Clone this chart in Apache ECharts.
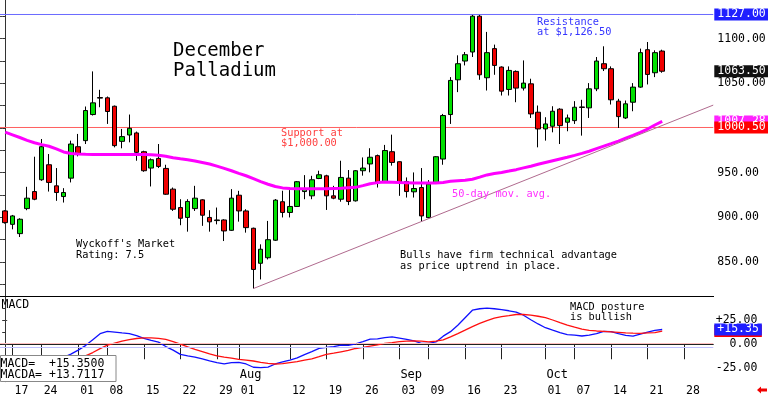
<!DOCTYPE html>
<html><head><meta charset="utf-8">
<script src="https://cdn.jsdelivr.net/npm/echarts@6/dist/echarts.min.js"></script>
<style>html,body{margin:0;padding:0;background:#fff}#c{width:768px;height:396px}</style>
</head><body><div id="c"></div>
<script>
// ---- data (trading-day index 0..90) ----
const candleOpen  = [907.1,892.1,881.7,909.7,928.8,942.0,958.8,935.2,923.2,943.8,979.0,985.8,1015.0,1034.0,1033.7,1024.3,985.0,992.1,994.4,973.4,955.1,965.9,954.7,931.5,910.9,899.8,909.7,919.5,899.8,896.3,897.0,885.4,924.7,907.1,887.7,848.5,854.7,874.3,917.4,905.4,912.1,928.8,924.0,943.4,946.4,924.0,920.2,943.8,918.4,952.1,959.7,969.0,939.8,973.4,962.2,940.1,928.5,933.3,899.6,939.0,965.2,1015.0,1053.9,1074.9,1085.0,1125.1,1056.2,1088.8,1068.2,1043.1,1063.3,1044.6,1049.4,1017.6,998.9,1001.9,1021.0,1006.4,1008.2,1023.5,1022.5,1043.8,1071.9,1066.3,1030.0,1011.2,1028.8,1045.7,1087.6,1061.8,1086.1];
const candleClose = [894.0,901.5,897.8,921.4,920.2,979.0,939.0,927.7,927.7,982.0,971.5,1019.5,1028.1,1033.4,1018.4,980.2,990.3,999.6,972.7,952.1,964.4,956.9,925.8,909.0,898.9,917.7,921.4,902.3,894.9,897.0,884.7,921.4,907.1,888.4,841.6,864.2,874.9,919.2,905.4,912.1,939.8,931.5,942.0,947.6,924.0,921.4,944.6,917.7,952.1,955.1,967.2,939.1,974.7,961.4,939.1,928.8,932.2,901.5,937.1,967.8,1013.9,1053.2,1071.9,1082.0,1125.1,1059.5,1084.3,1070.0,1041.2,1064.4,1044.6,1050.2,1015.7,998.9,1004.5,1018.7,1002.6,1011.2,1023.2,1023.0,1043.8,1074.9,1066.3,1031.5,1012.7,1027.0,1045.7,1084.3,1059.9,1084.3,1063.5];
const candleLow   = [892.9,886.5,877.9,907.9,919.1,940.8,928.8,918.4,916.5,939.0,968.2,982.0,1013.9,1023.2,1004.5,978.3,977.2,983.9,963.3,950.9,934.5,955.1,925.1,907.1,891.1,883.9,907.1,890.4,883.9,892.1,873.4,884.7,895.1,882.8,820.2,830.4,852.8,873.5,899.8,899.8,911.7,920.2,920.2,942.7,908.2,920.2,917.4,913.6,917.6,946.6,950.3,933.3,939.1,957.8,924.0,922.1,922.1,895.1,898.9,938.2,958.8,1004.5,1040.1,1070.0,1079.4,1053.9,1041.9,1059.5,1036.3,1036.3,1028.8,1041.9,1011.2,978.3,985.8,995.1,982.0,996.3,1004.5,991.4,1011.2,1041.2,1063.7,1026.2,1000.0,1010.1,1018.7,1044.9,1048.7,1056.9,1061.8];
const candleHigh  = [907.9,902.6,898.9,934.1,967.8,987.6,970.8,955.1,932.6,985.8,993.3,1024.0,1063.3,1042.7,1035.2,1025.1,998.9,1015.0,995.9,974.5,965.9,982.0,958.8,933.3,920.2,920.2,935.2,920.2,907.9,910.9,897.8,931.5,929.6,909.0,888.4,869.7,895.9,920.4,929.7,930.4,940.6,947.2,946.4,952.1,947.6,935.2,963.3,952.9,952.8,967.0,977.3,970.2,981.0,992.5,962.5,944.6,950.2,955.1,941.6,968.5,1015.7,1056.9,1081.3,1085.0,1126.5,1126.5,1107.5,1093.3,1068.9,1068.9,1064.4,1075.6,1055.1,1025.1,1012.0,1024.3,1022.1,1015.0,1030.0,1031.5,1050.2,1079.4,1091.4,1068.9,1032.6,1030.7,1050.2,1088.8,1096.2,1086.9,1087.6];
const ma50 = [995.3,992.3,989.3,986.1,983.4,981.3,979.5,976.5,973.1,971.4,970.8,970.5,970.3,970.2,970.2,970.2,970.2,970.2,970.2,970.2,970.0,969.5,968.4,966.6,965.4,964.3,963.0,961.4,959.7,957.2,954.7,952.1,949.2,946.5,943.2,939.9,937.0,934.4,932.9,932.1,932.0,932.0,932.0,932.0,932.0,932.2,932.4,933.1,933.5,935.4,937.6,938.8,939.4,939.3,938.9,938.7,938.5,938.3,938.3,938.3,939.0,940.3,940.9,941.5,942.6,944.9,947.4,949.0,950.2,951.7,953.3,955.3,957.2,959.3,961.3,963.3,965.3,967.2,969.3,971.5,973.9,976.8,979.6,982.4,985.3,988.5,991.7,995.1,998.8,1003.3,1007.28];
const macdStart = 8;
const macdLine = [-13.5,-10.2,-6.1,-1.4,4.8,11.0,13.4,12.6,11.8,11.1,8.9,6.1,4.0,2.2,-2.4,-6.1,-10.5,-12.1,-13.3,-15.2,-17.2,-19.0,-20.3,-19.0,-18.8,-20.5,-23.9,-24.3,-23.7,-20.5,-18.3,-16.4,-14.1,-10.7,-7.6,-4.3,-3.3,-2.5,-0.9,-1.2,0.5,2.7,5.3,5.5,6.9,7.6,6.4,5.1,3.5,0.9,0.9,2.4,8.4,13.1,19.8,27.6,35.4,36.9,37.6,36.9,35.9,34.8,33.3,30.2,25.5,21.1,17.2,14.6,12.1,10.0,9.5,8.6,9.5,11.0,13.4,13.1,11.0,9.3,8.4,10.5,12.6,14.5,15.35];
const signalStart = 10;
const signalLine = [-15.5,-12.0,-8.6,-4.5,-0.9,1.2,3.3,4.8,6.0,6.6,6.6,6.1,5.0,2.7,0.2,-2.7,-5.3,-7.6,-10.0,-12.0,-13.3,-14.3,-15.6,-16.4,-17.4,-18.8,-19.8,-20.5,-20.2,-19.0,-18.0,-16.4,-15.1,-12.8,-10.4,-9.2,-7.8,-6.4,-4.4,-3.3,-1.9,-0.7,0.9,1.7,2.7,3.3,3.5,3.3,2.5,3.3,4.5,7.6,11.0,14.6,18.3,21.6,24.5,27.1,28.8,29.8,30.9,30.9,30.2,29.1,27.6,25.2,22.4,19.8,17.7,15.7,14.4,13.8,13.4,12.9,12.4,11.9,11.5,11.3,11.8,12.1,13.7117];
const dateTickIdx = [1,5,10,14,19,24,29,32,39,44,49,54,58,63,68,74,78,83,88,93];
const dateTickLabels = ['17','24','01','08','15','22','29','01','12','19','26','03','09','16','23','01','07','14','21','28'];
const monthTickIdx = [32,54,74];
const monthLabels = ['Aug','Sep','Oct'];
const priceLabelValues = [850,900,950,1050,1100];
const priceTickValues = [825,850,875,900,925,950,975,1000,1025,1050,1075,1100,1125];
const resistanceLevel = 1127;
const supportLevel = 1000.5;
const lastPrice = 1063.5;
const lastMA = 1007.28;
const trendIdx = [34, 96.99];
const trendVal = [820.2, 1025.55];
const macdLabelValues = [-25, 0, 25];
const macdTickValues = [-37.5,-25,-12.5,0,12.5,25,37.5];
const macdZeroLines = [0.9, -2.6];
const lastMacd = 15.35, lastSignal = 13.7117;

// ---- chart ----
const F = '"DejaVu Sans Mono", monospace';
const XMIN = -0.712, XMAX = 97.0;
const YMIN = 810.75, YMAX = 1143.23;
const chart = echarts.init(document.getElementById('c'), null, {renderer: 'canvas'});

const candleData = candleOpen.map((o, i) => [i, o, candleClose[i], candleLow[i], candleHigh[i]]);
const maData = ma50.map((v, i) => [i, v]);
const macdData = macdLine.map((v, i) => [macdStart + i, v]);
const sigData = signalLine.map((v, i) => [signalStart + i, v]);
const levelLine = (v) => [[XMIN, v], [XMAX, v]];

const near = (a, b) => Math.abs(a - b) < 1e-6;
// transparent horizontal markLine carrying a value tag beside the right axis
const tag = (v, text, bg) => ({yAxis: v, lineStyle: {color: 'rgba(0,0,0,0)', width: 1, opacity: 1},
  label: {show: true, position: 'end', distance: 1, formatter: text, fontSize: 11.5, fontFamily: F, color: '#fff', opacity: 1,
    backgroundColor: bg, padding: [1, 3, 0, 3], lineHeight: 11, align: 'left', verticalAlign: 'middle'}});

const option = {
  animation: false,
  backgroundColor: '#fff',
  grid: [
    {left: 0, top: 0, width: 713.3, height: 297, containLabel: false, outerBoundsMode: 'none'},
    {left: 0, top: 297, width: 713.3, height: 84.7, containLabel: false, outerBoundsMode: 'none'}
  ],
  xAxis: [
    {type: 'value', gridIndex: 0, min: XMIN, max: XMAX, show: false, splitLine: {show: false}},
    {type: 'value', gridIndex: 1, min: XMIN, max: XMAX, position: 'bottom',
      splitLine: {show: false},
      axisLine: {show: true, lineStyle: {color: '#222', width: 1}},
      axisTick: {show: true, customValues: dateTickIdx, inside: false, length: 15, lineStyle: {color: '#222'}},
      axisLabel: {show: true, customValues: dateTickIdx, align: 'left', margin: 3, padding: [0, 0, 0, 2],
        fontSize: 11.5, fontFamily: F, color: '#000', hideOverlap: false,
        formatter: v => { const k = dateTickIdx.findIndex(d => near(d, v)); return k >= 0 ? dateTickLabels[k] : ''; }}
    },
    {type: 'value', gridIndex: 1, min: XMIN, max: XMAX, position: 'bottom',
      splitLine: {show: false}, axisLine: {show: false}, axisTick: {show: false},
      axisLabel: {show: true, inside: true, customValues: monthTickIdx, align: 'left', margin: 1, padding: [0, 0, 0, 1],
        fontSize: 12, fontFamily: F, color: '#000',
        formatter: v => { const k = monthTickIdx.findIndex(d => near(d, v)); return k >= 0 ? monthLabels[k] : ''; }}
    }
  ],
  yAxis: [
    {type: 'value', gridIndex: 0, position: 'right', min: YMIN, max: YMAX,
      splitLine: {show: false},
      axisLine: {show: true, lineStyle: {color: '#333'}},
      axisTick: {show: true, inside: true, length: 3, customValues: priceTickValues, lineStyle: {color: '#333'}},
      axisLabel: {show: true, margin: 4, customValues: priceLabelValues, hideOverlap: false,
        formatter: v => v.toFixed(2), fontSize: 11.5, fontFamily: F, color: '#000'}
    },
    {type: 'value', gridIndex: 0, position: 'left', min: YMIN, max: YMAX,
      splitLine: {show: false}, axisLine: {show: false},
      axisTick: {show: true, inside: true, length: 2, customValues: priceTickValues, lineStyle: {color: '#444'}},
      axisLabel: {show: false}
    },
    {type: 'value', gridIndex: 1, position: 'right', min: -38.9, max: 49.1,
      splitLine: {show: false},
      axisLine: {show: true, lineStyle: {color: '#333'}},
      axisTick: {show: true, inside: true, length: 3, customValues: macdTickValues, lineStyle: {color: '#333'}},
      axisLabel: {show: true, margin: 44, align: 'right', customValues: macdLabelValues, hideOverlap: false,
        formatter: v => (v > 0 ? '+' : '') + v.toFixed(2), fontSize: 11.5, fontFamily: F, color: '#000'}
    },
    {type: 'value', gridIndex: 1, position: 'left', min: -38.9, max: 49.1,
      splitLine: {show: false}, axisLine: {show: false},
      axisTick: {show: true, inside: true, length: 2, customValues: macdLabelValues, lineStyle: {color: '#444'}},
      axisLabel: {show: false}
    }
  ],
  series: [
    {type: 'line', xAxisIndex: 0, yAxisIndex: 0, data: levelLine(resistanceLevel), showSymbol: false, symbol: 'none',
      lineStyle: {color: '#6a6aff', width: 1}, z: 1, silent: true},
    {type: 'line', xAxisIndex: 0, yAxisIndex: 0, data: levelLine(supportLevel), showSymbol: false, symbol: 'none',
      lineStyle: {color: '#ff6060', width: 1}, z: 1, silent: true},
    {type: 'candlestick', xAxisIndex: 0, yAxisIndex: 0, data: candleData, encode: {x: 0, y: [1, 2, 3, 4]},
      barWidth: 5, z: 2,
      itemStyle: {color: '#00e000', color0: '#f00000', borderColor: '#000', borderColor0: '#000', borderWidth: 1}
    },
    {type: 'line', xAxisIndex: 0, yAxisIndex: 0, data: maData, showSymbol: false, symbol: 'none',
      lineStyle: {color: '#ff00ff', width: 3}, z: 3,
      markLine: {silent: true, symbol: 'none', animation: false,
        data: [
          [{coord: [trendIdx[0], trendVal[0]], lineStyle: {color: '#b06a8e', width: 1, type: 'solid'}, label: {show: false}},
           {coord: [trendIdx[1], trendVal[1]]}],
          tag(resistanceLevel, resistanceLevel.toFixed(2), '#1f1fff'),
          tag(lastPrice, lastPrice.toFixed(2), '#111111'),
          tag(lastMA, lastMA.toFixed(2), '#ff22ff'),
          tag(supportLevel, supportLevel.toFixed(2), '#ff0000')
        ]}
    },
    {type: 'line', xAxisIndex: 1, yAxisIndex: 2, data: macdData, showSymbol: false, symbol: 'none',
      lineStyle: {color: '#1010ff', width: 1.3}, z: 3,
      markLine: {silent: true, symbol: 'none', animation: false,
        data: [
          {yAxis: macdZeroLines[0], lineStyle: {color: '#ffc0c0', width: 1, type: 'solid'}, label: {show: false}},
          {yAxis: macdZeroLines[1], lineStyle: {color: '#c0c0ff', width: 1, type: 'solid'}, label: {show: false}},
          tag(lastSignal, '+' + lastSignal.toFixed(2), '#ff0000'),
          tag(lastMacd, '+' + lastMacd.toFixed(2), '#1f1fff')
        ]}
    },
    {type: 'line', xAxisIndex: 1, yAxisIndex: 2, data: sigData, showSymbol: false, symbol: 'none',
      lineStyle: {color: '#ff1010', width: 1.3}, z: 3}
  ],
  graphic: [
    {type: 'line', z: 50, shape: {x1: 0, y1: 296.5, x2: 714, y2: 296.5}, style: {stroke: '#000', lineWidth: 1}},
    {type: 'text', z: 50, x: 173, y: 41.5, style: {text: 'December\nPalladium', font: '19px ' + F, lineHeight: 20, fill: '#000', verticalAlign: 'top'}},
    {type: 'text', z: 50, x: 537, y: 17.7, style: {text: 'Resistance\nat $1,126.50', font: '10.3px ' + F, lineHeight: 10, fill: '#3535ff', verticalAlign: 'top'}},
    {type: 'text', z: 50, x: 281, y: 128.7, style: {text: 'Support at\n$1,000.00', font: '10.3px ' + F, lineHeight: 10, fill: '#ff4040', verticalAlign: 'top'}},
    {type: 'text', z: 50, x: 76, y: 238.9, style: {text: "Wyckoff's Market\nRating: 7.5", font: '10.3px ' + F, lineHeight: 11, fill: '#000', verticalAlign: 'top'}},
    {type: 'text', z: 50, x: 452, y: 189.4, style: {text: '50-day mov. avg.', font: '10.3px ' + F, lineHeight: 10, fill: '#ff30ff', verticalAlign: 'top'}},
    {type: 'text', z: 50, x: 400, y: 249.6, style: {text: 'Bulls have firm technical advantage\nas price uptrend in place.', font: '10.3px ' + F, lineHeight: 11, fill: '#000', verticalAlign: 'top'}},
    {type: 'text', z: 50, x: 570, y: 302.7, style: {text: 'MACD posture\nis bullish', font: '10.3px ' + F, lineHeight: 10, fill: '#000', verticalAlign: 'top'}},
    {type: 'text', z: 50, x: 1.5, y: 299, style: {text: 'MACD', font: '11.5px ' + F, lineHeight: 12, fill: '#000', verticalAlign: 'top'}},
    {type: 'rect', z: 60, shape: {x: 0.5, y: 355.5, width: 115.5, height: 26}, style: {fill: '#fff', stroke: '#888', lineWidth: 1}},
    {type: 'text', z: 61, x: 0.5, y: 358, style: {text: 'MACD=  +' + lastMacd.toFixed(4) + '\nMACDA= +' + lastSignal.toFixed(4), font: '11.5px ' + F, lineHeight: 11.5, fill: '#000', verticalAlign: 'top'}},
    {type: 'polygon', z: 50, shape: {points: [[757, 390], [761, 386.5], [761, 388.5], [767, 388.5], [767, 391.5], [761, 391.5], [761, 393.5]]}, style: {fill: '#f00000'}}
  ]
};
chart.setOption(option);
</script>
</body></html>
